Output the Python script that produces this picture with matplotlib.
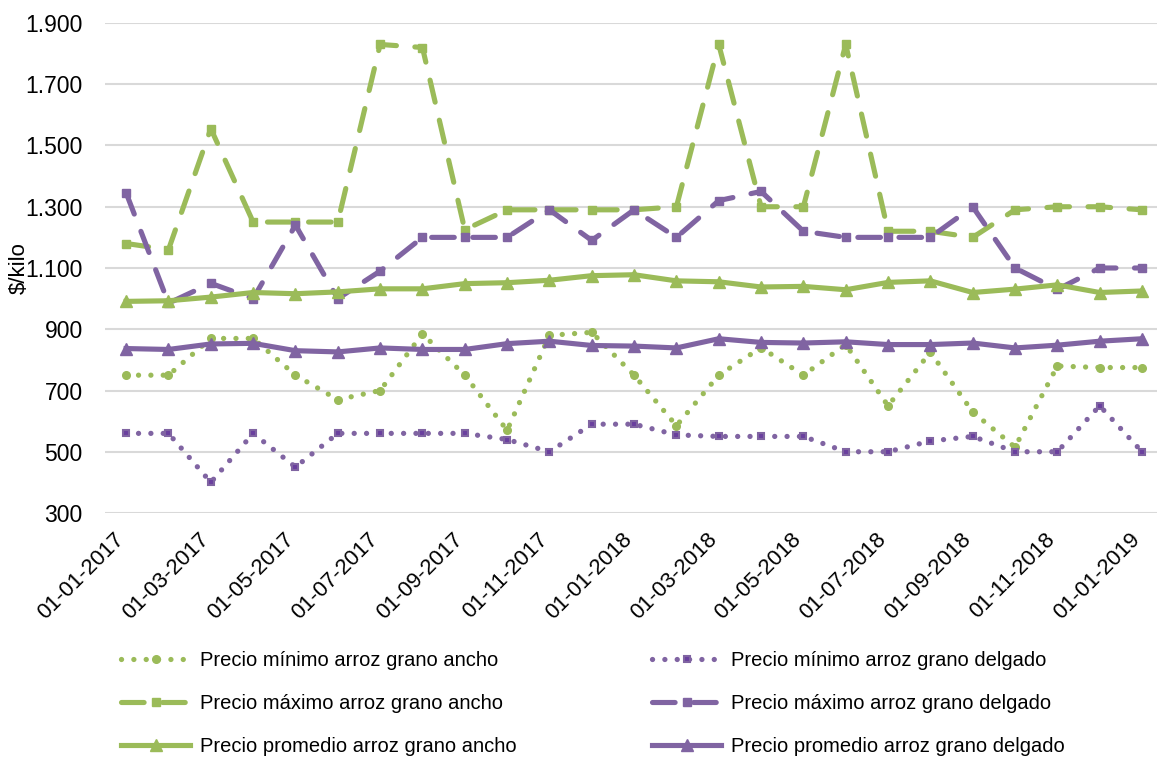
import matplotlib
matplotlib.use("Agg")
import matplotlib.pyplot as plt
import matplotlib.transforms as mtrans
from matplotlib.ticker import FuncFormatter

plt.rcParams['font.family'] = ['Liberation Sans', 'DejaVu Sans']

fechas = ["01-01-2017", "01-02-2017", "01-03-2017", "01-04-2017", "01-05-2017",
          "01-06-2017", "01-07-2017", "01-08-2017", "01-09-2017", "01-10-2017",
          "01-11-2017", "01-12-2017", "01-01-2018", "01-02-2018", "01-03-2018",
          "01-04-2018", "01-05-2018", "01-06-2018", "01-07-2018", "01-08-2018",
          "01-09-2018", "01-10-2018", "01-11-2018", "01-12-2018", "01-01-2019"]

min_ancho = [750, 750, 870, 870, 750, 670, 700, 885, 750, 570, 880, 890, 750,
             585, 750, 840, 750, 850, 650, 825, 630, 515, 780, 775, 775]
min_delgado = [560, 560, 400, 560, 450, 560, 560, 560, 560, 540, 500, 590, 590,
               555, 550, 550, 550, 500, 500, 535, 550, 500, 500, 650, 500]
max_ancho = [1180, 1160, 1555, 1250, 1250, 1250, 1830, 1820, 1225, 1290, 1290, 1290, 1290,
             1300, 1830, 1300, 1300, 1830, 1220, 1220, 1200, 1290, 1300, 1300, 1290]
max_delgado = [1345, 985, 1050, 1000, 1240, 1000, 1090, 1200, 1200, 1200, 1290, 1190, 1290,
               1200, 1320, 1350, 1220, 1200, 1200, 1200, 1300, 1100, 1030, 1100, 1100]
prom_ancho = [991, 993, 1005, 1020, 1016, 1022, 1032, 1032, 1049, 1052, 1060, 1075, 1078,
              1058, 1055, 1038, 1040, 1029, 1053, 1058, 1020, 1031, 1045, 1020, 1025]
prom_delgado = [837, 834, 852, 854, 830, 826, 839, 834, 834, 853, 861, 847, 845,
                839, 869, 857, 855, 859, 850, 850, 855, 839, 848, 861, 869]

etiquetas = ["Precio mínimo arroz grano ancho", "Precio máximo arroz grano ancho",
             "Precio promedio arroz grano ancho", "Precio mínimo arroz grano delgado",
             "Precio máximo arroz grano delgado", "Precio promedio arroz grano delgado"]

VERDE = '#9BBB59'
MORADO = '#8064A2'
MORADO_OSC = '#6A3F9E'

W, H = 1157, 758
fig = plt.figure(figsize=(W / 100, H / 100), dpi=100)
ax = fig.add_axes([105 / W, (H - 513) / H, (W - 105) / W, 490 / H])

x = list(range(len(fechas)))

dot = (0, (0.01, 2.33))
dash = (0, (4.4, 3.6))

l_min_a, = ax.plot(x, min_ancho, color=VERDE, lw=3.8, ls=dot, dash_capstyle='round',
                   marker='o', ms=5.5, mfc=VERDE, mec=VERDE, zorder=2)
l_min_d, = ax.plot(x, min_delgado, color=MORADO, lw=3.8, ls=dot, dash_capstyle='round',
                   marker='s', ms=5, mfc=MORADO_OSC, mec=MORADO, mew=1.5, zorder=3)
l_max_a, = ax.plot(x, max_ancho, color=VERDE, lw=3.7, ls=dash, dash_capstyle='round',
                   marker='s', ms=6, mfc=VERDE, mec=VERDE, zorder=4)
l_max_d, = ax.plot(x, max_delgado, color=MORADO, lw=3.7, ls=dash, dash_capstyle='round',
                   marker='s', ms=6, mfc=MORADO, mec=MORADO, zorder=5)
l_pro_a, = ax.plot(x, prom_ancho, color=VERDE, lw=3.7, ls='-',
                   marker='^', ms=8, mfc=VERDE, mec=VERDE, zorder=6)
l_pro_d, = ax.plot(x, prom_delgado, color=MORADO, lw=3.7, ls='-',
                   marker='^', ms=8, mfc=MORADO, mec=MORADO, zorder=7)

ax.set_xlim(-0.5, (W - 126) / ((1142 - 126) / 24))
ax.set_ylim(300, 1900)
ax.set_yticks(range(300, 1901, 200))
ax.yaxis.set_major_formatter(FuncFormatter(lambda v, p: f"{v:,.0f}".replace(",", ".")))
ax.grid(axis='y', color='#D9D9D9', lw=1.5)
ax.set_axisbelow(True)
for s in ax.spines.values():
    s.set_visible(False)
ax.tick_params(axis='y', length=0, pad=16, labelsize=16.5, labelcolor='black')
ax.tick_params(axis='x', length=0, pad=17, labelsize=15.8, labelcolor='black')

ticks = x[::2]
ax.set_xticks(ticks)
ax.set_xticklabels([fechas[i] for i in ticks], rotation=45, ha='right',
                   va='center', rotation_mode='anchor')
off = mtrans.ScaledTranslation(-5 / 100, 0, fig.dpi_scale_trans)
for lab in ax.get_xticklabels():
    lab.set_transform(lab.get_transform() + off)

ax.set_ylabel("$/kilo", fontsize=16)
ax.yaxis.set_label_coords((30 - 105) / (W - 105), 0.5)

leg_kw = dict(loc='upper left', frameon=False, fontsize=14.5, handlelength=3.43,
              handletextpad=0.5, labelspacing=1.19, borderpad=0, borderaxespad=0,
              numpoints=1)
fig.legend([l_min_a, l_max_a, l_pro_a], etiquetas[:3],
           bbox_to_anchor=(121 / W, 1 - 651 / H), **leg_kw)
fig.legend([l_min_d, l_max_d, l_pro_d], etiquetas[3:],
           bbox_to_anchor=(652 / W, 1 - 651 / H), **leg_kw)

fig.savefig("out.png", dpi=100)
